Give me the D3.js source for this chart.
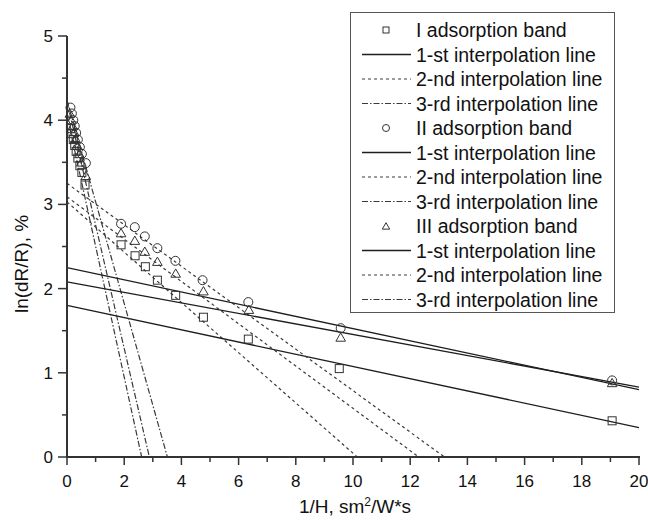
<!DOCTYPE html>
<html><head><meta charset="utf-8">
<script src="https://cdn.jsdelivr.net/npm/d3@7"></script>
<style>body{margin:0;background:#fff}svg{display:block}text{font-family:"Liberation Sans",Arial,sans-serif;fill:#111}</style>
</head><body>
<script>
// ---- data ----
const xTicks = [0,2,4,6,8,10,12,14,16,18,20];
const yTicks = [0,1,2,3,4,5];
const bandIx = [0.12,0.17,0.22,0.27,0.32,0.38,0.45,0.52,0.63,1.89,2.38,2.74,3.16,3.80,4.77,6.34,9.52,19.06];
const bandIy = [3.90,3.84,3.77,3.70,3.63,3.55,3.46,3.38,3.23,2.52,2.39,2.26,2.10,1.92,1.66,1.40,1.05,0.43];
const bandIIx = [0.12,0.17,0.22,0.27,0.32,0.38,0.45,0.52,0.66,1.89,2.37,2.72,3.16,3.79,4.74,6.34,9.57,19.06];
const bandIIy = [4.15,4.08,4.00,3.93,3.85,3.77,3.68,3.60,3.49,2.77,2.73,2.62,2.48,2.33,2.10,1.84,1.53,0.91];
const bandIIIx = [0.10,0.15,0.20,0.25,0.30,0.36,0.43,0.50,0.66,1.89,2.37,2.72,3.16,3.80,4.77,6.36,9.57,19.06];
const bandIIIy = [4.08,4.00,3.93,3.86,3.78,3.70,3.60,3.50,3.34,2.66,2.57,2.44,2.32,2.18,1.97,1.75,1.42,0.88];
// interpolation lines: endpoints [x0,y0,x1,y1]
const line1 = {I:[0,1.80,20,0.35], II:[0,2.25,20,0.80], III:[0,2.08,20,0.83]};
const line2 = {I:[0,3.03,10.15,0], II:[0,3.25,13.2,0], III:[0,3.09,12.3,0]};
const line3 = {I:[0,4.06,2.61,0], II:[0,4.24,3.51,0], III:[0,4.22,2.88,0]};
const legendLabels = ["I adsorption band","1-st interpolation line","2-nd interpolation line","3-rd interpolation line",
  "II adsorption band","1-st interpolation line","2-nd interpolation line","3-rd interpolation line",
  "III adsorption band","1-st interpolation line","2-nd interpolation line","3-rd interpolation line"];

const W=648,H=524;
const svg=d3.select("body").append("svg").attr("width",W).attr("height",H);
const x=d3.scaleLinear().domain([0,20]).range([67,639]);
const y=d3.scaleLinear().domain([0,5]).range([457,36]);

const styles={
  l1:{stroke:"#1e1e1e",w:1.3,dash:null},
  l2:{stroke:"#3a3a3a",w:1.2,dash:"3,3"},
  l3:{stroke:"#3a3a3a",w:1.2,dash:"6,2,1.5,2"}
};
function drawLine(seg,st){
  svg.append("line").attr("x1",x(seg[0])).attr("y1",y(seg[1])).attr("x2",x(seg[2])).attr("y2",y(seg[3]))
    .attr("stroke",st.stroke).attr("stroke-width",st.w).attr("stroke-dasharray",st.dash).attr("fill","none");
}
["I","II","III"].forEach(k=>{drawLine(line3[k],styles.l3);drawLine(line2[k],styles.l2);drawLine(line1[k],styles.l1);});

// axes
const gx=svg.append("g").attr("transform","translate(0,457)");
gx.append("line").attr("x1",66).attr("x2",640).attr("stroke","#333").attr("stroke-width",2);
gx.selectAll(".t").data(d3.range(0,21,1)).join("line").attr("x1",d=>x(d)).attr("x2",d=>x(d))
  .attr("y1",0).attr("y2",d=>d%2===0?8:5).attr("stroke","#333").attr("stroke-width",1.5);
gx.selectAll(".l").data(xTicks).join("text").attr("x",d=>x(d)).attr("y",30).attr("text-anchor","middle")
  .attr("font-size",17).text(d=>d);
const gy=svg.append("g").attr("transform","translate(67,0)");
gy.append("line").attr("y1",y(0)+1).attr("y2",y(5)).attr("stroke","#333").attr("stroke-width",2);
gy.selectAll(".t").data(d3.range(0,5.01,0.5)).join("line").attr("y1",d=>y(d)).attr("y2",d=>y(d))
  .attr("x1",0).attr("x2",d=>Math.abs(d-Math.round(d))<1e-6?-9:-5).attr("stroke","#333").attr("stroke-width",1.5);
gy.selectAll(".l").data(yTicks).join("text").attr("x",-14).attr("y",d=>y(d)+6).attr("text-anchor","end")
  .attr("font-size",17).text(d=>d);

// axis titles
const xt=svg.append("text").attr("x",355).attr("y",513).attr("text-anchor","middle").attr("font-size",19);
xt.append("tspan").text("1/H, sm");
xt.append("tspan").attr("font-size",12).attr("dy",-7).text("2");
xt.append("tspan").attr("dy",7).text("/W*s");
svg.append("text").attr("transform","translate(28,264) rotate(-90)").attr("text-anchor","middle")
  .attr("font-size",19).text("ln(dR/R), %");

// markers
const mstroke="#333";
function squares(xs,ys,g,s){g.selectAll(null).data(xs).join("rect").attr("x",(d)=>x(d)-s/2).attr("y",(d,i)=>y(ys[i])-s/2)
  .attr("width",s).attr("height",s).attr("fill","none").attr("stroke",mstroke).attr("stroke-width",1);}
function circles(xs,ys,g,r){g.selectAll(null).data(xs).join("circle").attr("cx",d=>x(d)).attr("cy",(d,i)=>y(ys[i]))
  .attr("r",r).attr("fill","none").attr("stroke",mstroke).attr("stroke-width",1);}
const tri=d3.symbol().type(d3.symbolTriangle).size(40);
function triangles(xs,ys,g){g.selectAll(null).data(xs).join("path").attr("d",tri)
  .attr("transform",(d,i)=>`translate(${x(d)},${y(ys[i])+1})`).attr("fill","none").attr("stroke",mstroke).attr("stroke-width",1);}
const gm=svg.append("g");
squares(bandIx,bandIy,gm.append("g"),8);
circles(bandIIx,bandIIy,gm.append("g"),4.5);
triangles(bandIIIx,bandIIIy,gm.append("g"));

// legend
const lg=svg.append("g");
lg.append("rect").attr("x",350.5).attr("y",12.5).attr("width",264).attr("height",300).attr("fill","#fff").attr("stroke","#555").attr("stroke-width",1);
legendLabels.forEach((lab,i)=>{
  const cy=30+i*24.5;
  const t=i%4;
  if(t===0){
    const sym=i/4;
    if(sym===0) lg.append("rect").attr("x",383).attr("y",cy-3).attr("width",6).attr("height",6).attr("fill","none").attr("stroke",mstroke);
    if(sym===1) lg.append("circle").attr("cx",386).attr("cy",cy).attr("r",3.5).attr("fill","none").attr("stroke",mstroke);
    if(sym===2) lg.append("path").attr("d",d3.symbol().type(d3.symbolTriangle).size(24)).attr("transform",`translate(386,${cy+1})`).attr("fill","none").attr("stroke",mstroke);
  } else {
    const st=[null,styles.l1,styles.l2,styles.l3][t];
    lg.append("line").attr("x1",362).attr("x2",411).attr("y1",cy).attr("y2",cy).attr("stroke",st.stroke).attr("stroke-width",st.w).attr("stroke-dasharray",st.dash);
  }
  lg.append("text").attr("x",416).attr("y",cy+7).attr("font-size",19.5).text(lab);
});
</script>
</body></html>
